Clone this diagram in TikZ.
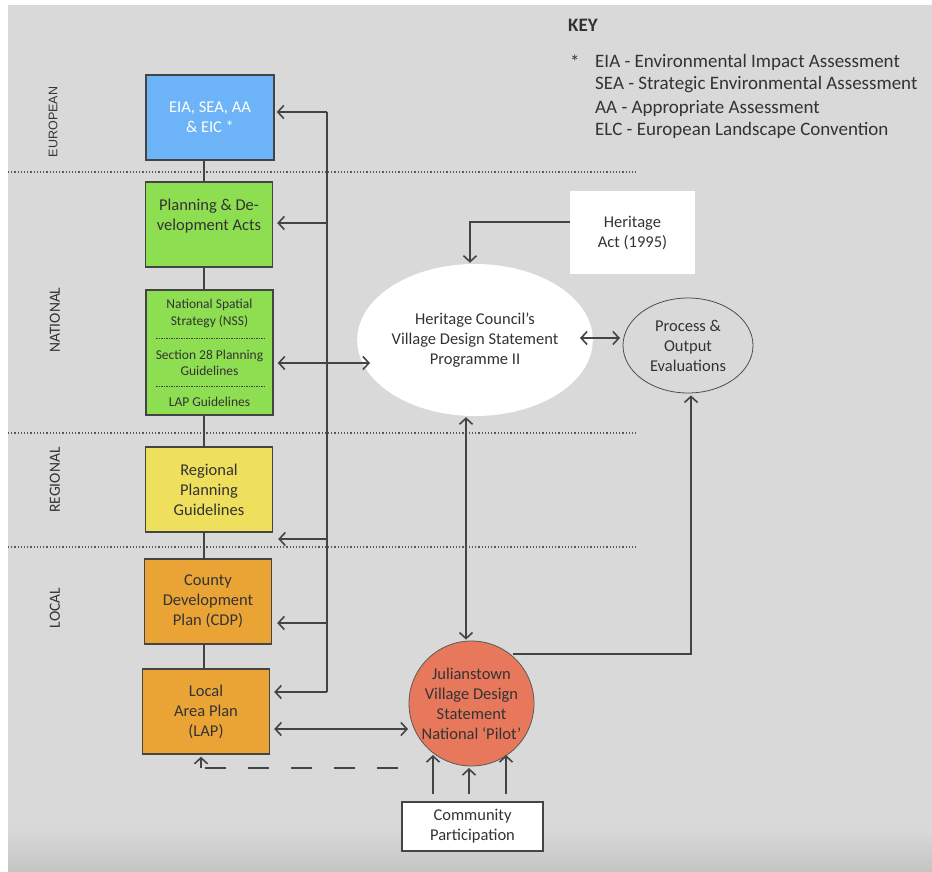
\documentclass[tikz,border=0pt]{standalone}
\usepackage{fontspec}
\setmainfont{Carlito}
\newfontfamily\arialfont{Liberation Sans}
\usetikzlibrary{arrows.meta,shapes.geometric,calc}
\definecolor{bg}{HTML}{D9D9D9}
\definecolor{bgdark}{HTML}{C4C4C4}
\definecolor{lc}{HTML}{444444}
\definecolor{txt}{HTML}{333333}
\definecolor{cblue}{HTML}{6DB3F7}
\definecolor{cgreen}{HTML}{8EDE52}
\definecolor{cyellow}{HTML}{EEE05C}
\definecolor{corange}{HTML}{EAA436}
\definecolor{csalmon}{HTML}{E8785C}
\begin{document}
\begin{tikzpicture}[x=1pt,y=-1pt,
  box/.style={draw=lc, line width=1.4pt, minimum width=127, minimum height=85,
    align=center, inner sep=0pt, text=txt, font=\fontsize{16.5}{20}\selectfont},
  small/.style={align=center, inner sep=0pt, text=txt, font=\fontsize{13.5}{16.5}\selectfont},
  lbl/.style={rotate=90, text=txt, inner sep=0pt, font=\fontsize{15.5}{18}\selectfont},
  conn/.style={draw=lc, line width=1.6pt},
  arr/.style={conn, -{Straight Barb[length=6pt,width=13pt]}},
  darr/.style={conn, {Straight Barb[length=6pt,width=13pt]}-{Straight Barb[length=6pt,width=13pt]}},
  sep/.style={draw=gray!70!black, dotted, line width=1.2pt},
  keytxt/.style={anchor=west, inner sep=0pt, text=txt, font=\fontsize{19}{22}\selectfont},
  mid/.style={align=center, inner sep=0pt, text=txt, font=\fontsize{16.5}{20}\selectfont}
]
\useasboundingbox (0,0) rectangle (932,872);
% background
\fill[bg] (0,0) rectangle (932,872);
\shade[top color=bg, bottom color=bgdark] (8,828) rectangle (932,872);
\fill[white] (0,0) rectangle (8,872);
\fill[white] (0,0) rectangle (932,5);

% level separators
\draw[sep] (8,172) -- (638,172);
\draw[sep] (8,433) -- (638,433);
\draw[sep] (8,547) -- (638,547);

% level labels
\node[lbl, font=\arialfont\fontsize{12.5}{14}\selectfont] (leu) at (53,122) {EUROPEAN};
\node[lbl] (lna) at (55,320) {NATIONAL};
\node[lbl] (lre) at (55,480) {REGIONAL};
\node[lbl] (llo) at (55,608) {LOCAL};

% key
\node[anchor=west, inner sep=0pt, text=txt, font=\bfseries\fontsize{19}{22}\selectfont] (key) at (568,25) {KEY};
\node[keytxt] (kstar) at (570,62) {*};
\node[keytxt] (k1) at (595,62) {EIA - Environmental Impact Assessment};
\node[keytxt] (k2) at (595,85) {SEA - Strategic Environmental Assessment};
\node[keytxt] (k3) at (595,108) {AA - Appropriate Assessment};
\node[keytxt] (k4) at (595,130) {ELC - European Landscape Convention};

% left column boxes
\node[box, fill=cblue, text=white, minimum width=128] (eia) at (210,117.5) {EIA, SEA, AA\\ \& EIC *};
\node[box, fill=cgreen] (plan) at (209,224.5) {Planning \& De-\\velopment Acts\\ \mbox{}};
\node[box, fill=cgreen, minimum height=125] (nss) at (209.5,352.5) {};
\node[small] (nss1) at (209.5,313.5) {National Spatial\\Strategy (NSS)};
\node[small] (nss2) at (209.5,363) {Section 28 Planning\\Guidelines};
\node[small] (nss3) at (209.5,402) {LAP Guidelines};
\draw[lc, dashed, dash pattern=on 1.5pt off 1pt, line width=0.7pt] (156,338) -- (264,338);
\draw[lc, dashed, dash pattern=on 1.5pt off 1pt, line width=0.7pt] (156,386) -- (264,386);
\node[box, fill=cyellow] (reg) at (209,489.5) {Regional\\Planning\\Guidelines};
\node[box, fill=corange] (cdp) at (208,601.5) {County\\Development\\Plan (CDP)};
\node[box, fill=corange] (lap) at (206,711.5) {Local\\Area Plan\\(LAP)};

% right side nodes
\node[mid, ellipse, fill=white, minimum width=204, minimum height=152] (hc) at (475,340)
  {Heritage Council’s\\Village Design Statement\\Programme II};
\node[mid, ellipse, draw=gray!60!black, line width=0.8pt, minimum width=130, minimum height=95] (pr) at (688,345.5)
  {Process \&\\Output\\Evaluations};
\node[mid, rectangle, fill=white, minimum width=125, minimum height=83] (ha) at (632.5,232.5) {Heritage\\Act (1995)};
\node[mid, circle, fill=csalmon, draw=gray!70!black, line width=0.8pt, minimum size=125] (jul) at (471.5,703.5)
  {Julianstown\\Village Design\\Statement\\National ‘Pilot’};
\node[mid, rectangle, fill=white, draw=lc, line width=1.4pt, minimum width=141, minimum height=49] (cp) at (472.5,826.5)
  {Community\\Participation};

% spine between left boxes
\coordinate (sp) at (204,0);
\draw[conn] (sp |- eia.south) -- (sp |- plan.north);
\draw[conn] (sp |- plan.south) -- (sp |- nss.north);
\draw[conn] (sp |- nss.south) -- (sp |- reg.north);
\draw[conn] (sp |- reg.south) -- (sp |- cdp.north);
\draw[conn] (sp |- cdp.south) -- (sp |- lap.north);

% bus
\coordinate (bT) at (327,112);
\coordinate (bP) at (327,223);
\coordinate (bR) at (327,539);
\coordinate (bC) at (327,623);
\coordinate (bL) at (327,692);
\draw[conn] (bT) -- (bL);
\draw[arr, shorten >=2pt] (bT) -- (eia.east |- bT);
\draw[arr, shorten >=4pt] (bP) -- (plan.east |- bP);
\draw[arr, shorten >=5pt] (bR) -- (reg.east |- bR);
\draw[arr, shorten >=5pt] (bC) -- (cdp.east |- bC);
\draw[arr, shorten >=4pt] (bL) -- (lap.east |- bL);

% NSS <-> HC
\coordinate (hcL) at (370,363);
\draw[darr, shorten <=4pt] (nss.east |- hcL) -- (hcL);
% LAP <-> Julianstown
\coordinate (jL) at (408,729);
\draw[darr, shorten <=4pt] (lap.east |- jL) -- (jL);
% dashed feedback
\coordinate (dR) at (398,768);
\coordinate (dL) at (201,768);
\draw[lc, line width=1.6pt, dash pattern=on 21pt off 22pt] (dR) -- (205,768);
\draw[arr, shorten >=2pt] (dL) -- ([xshift=-5pt]lap.south);

% Heritage Act -> HC
\draw[arr, shorten >=1pt] ([yshift=10.5pt]ha.west) -| ([xshift=-5pt]hc.north);
% HC <-> Process
\coordinate (m1) at (580,338);
\coordinate (m2) at (620,338);
\draw[darr] (m1) -- (m2);
% HC <-> Julianstown
\draw[darr, shorten <=1pt, shorten >=1pt] ([xshift=-9pt]hc.south) -- ([xshift=-5.5pt]jul.north);
% Julianstown -> Process
\coordinate (jR) at (513,654);
\draw[arr, shorten >=2pt] (jR) -| ([xshift=3pt]pr.south);
% Community -> Julianstown
\coordinate (c1) at (433,755);
\coordinate (c2) at (469,768);
\coordinate (c3) at (506,755);
\draw[arr, shorten <=7pt] (cp.north -| c1) -- (c1);
\draw[arr, shorten <=7pt] (cp.north -| c2) -- (c2);
\draw[arr, shorten <=7pt] (cp.north -| c3) -- (c3);
\end{tikzpicture}
\end{document}
